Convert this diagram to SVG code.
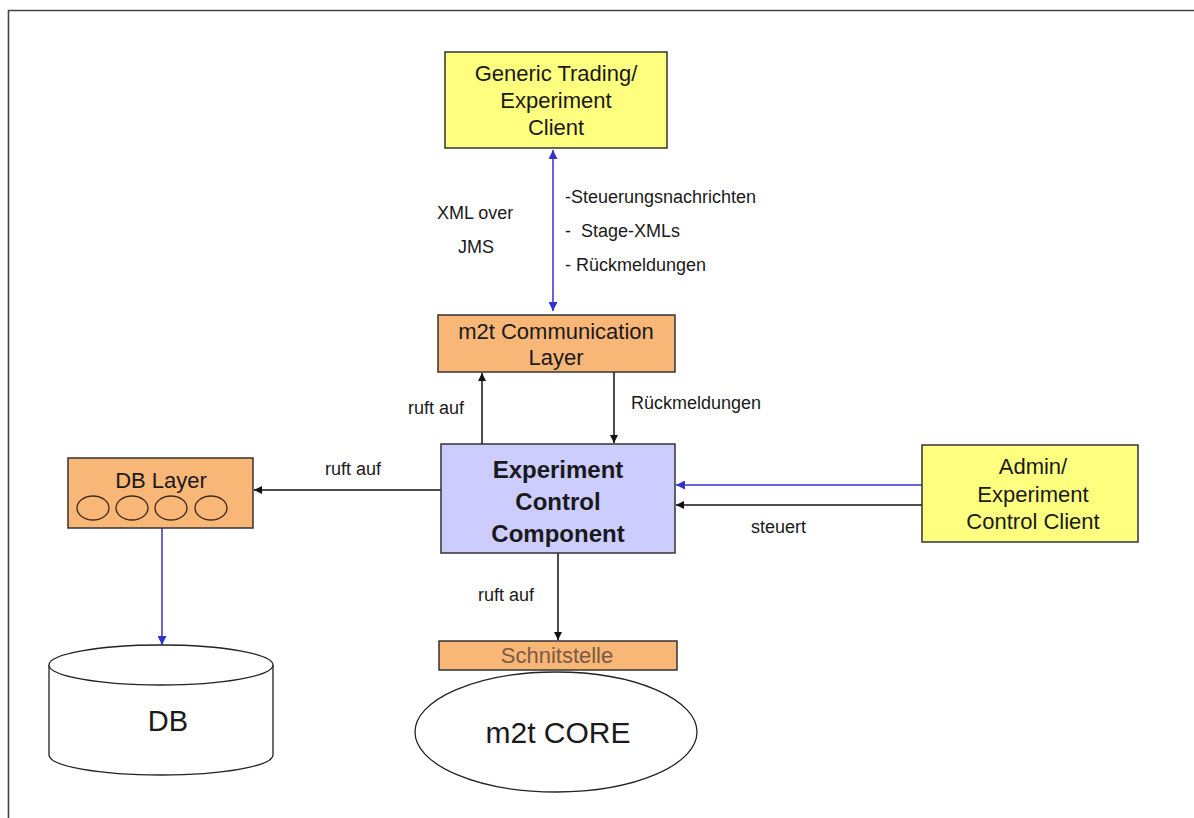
<svg xmlns="http://www.w3.org/2000/svg" width="1194" height="818" viewBox="0 0 1194 818">
  <defs>
    <style>
      .box { stroke: #333; stroke-width: 1.5; }
      .yellow { fill: #ffff7f; }
      .orange { fill: #f8b677; }
      .lav { fill: #ccccff; }
      .plain { fill: #fff; stroke: #222; stroke-width: 1.3; }
      .t { font-family: "Liberation Sans", Arial, sans-serif; fill: #1a1a1a; }
      .lbl { font-size: 18px; }
      .big { font-size: 22px; }
      .mid { text-anchor: middle; }
      .blk { stroke: #111; stroke-width: 1.5; fill: none; }
      .blu { stroke: #3333cc; stroke-width: 1.5; fill: none; }
    </style>
    <marker id="ah" viewBox="0 0 10 10" refX="10" refY="5" markerWidth="8" markerHeight="8" markerUnits="userSpaceOnUse" orient="auto-start-reverse">
      <path d="M0,0 L10,5 L0,10 z" fill="#111"/>
    </marker>
    <marker id="ahb" viewBox="0 0 10 10" refX="10" refY="5" markerWidth="9" markerHeight="9" markerUnits="userSpaceOnUse" orient="auto-start-reverse">
      <path d="M0,0 L10,5 L0,10 z" fill="#3333cc"/>
    </marker>
  </defs>

  <rect width="1194" height="818" fill="#fff"/>
  <!-- page frame -->
  <path d="M8.5,818 V10.5 H1194" fill="none" stroke="#444" stroke-width="1.6"/>

  <g id="connectors">
    <line class="blu" x1="553" y1="150" x2="553" y2="311" marker-start="url(#ahb)" marker-end="url(#ahb)"/>
    <line class="blk" x1="482" y1="444" x2="482" y2="373" marker-end="url(#ah)"/>
    <line class="blk" x1="614" y1="372" x2="614" y2="443" marker-end="url(#ah)"/>
    <line class="blk" x1="441" y1="490" x2="254" y2="490" marker-end="url(#ah)"/>
    <line class="blu" x1="162" y1="528" x2="162" y2="645" marker-end="url(#ahb)"/>
    <line class="blu" x1="922" y1="485" x2="676" y2="485" marker-end="url(#ahb)"/>
    <line class="blk" x1="922" y1="505" x2="676" y2="505" marker-end="url(#ah)"/>
    <line class="blk" x1="558" y1="553" x2="558" y2="640" marker-end="url(#ah)"/>

    <text class="t lbl" x="437" y="219">XML over</text>
    <text class="t lbl" x="458" y="253">JMS</text>
    <text class="t lbl" x="565" y="203">-Steuerungsnachrichten</text>
    <text class="t lbl" x="565" y="237" xml:space="preserve">-  Stage-XMLs</text>
    <text class="t lbl" x="565" y="271">- Rückmeldungen</text>
    <text class="t lbl" x="408" y="414">ruft auf</text>
    <text class="t lbl" x="631" y="409">Rückmeldungen</text>
    <text class="t lbl" x="325" y="475">ruft auf</text>
    <text class="t lbl" x="751" y="533">steuert</text>
    <text class="t lbl" x="478" y="601">ruft auf</text>
  </g>

  <g id="generic-client">
    <rect class="box yellow" x="445" y="52" width="222" height="96"/>
    <text class="t mid big" x="556" y="81">Generic Trading/</text>
    <text class="t mid big" x="556" y="108">Experiment</text>
    <text class="t mid big" x="556" y="135">Client</text>
  </g>

  <g id="comm-layer">
    <rect class="box orange" x="438" y="315" width="237" height="57"/>
    <text class="t mid big" x="556" y="339">m2t Communication</text>
    <text class="t mid big" x="556" y="365">Layer</text>
  </g>

  <g id="control-component">
    <rect class="box lav" x="441" y="444" width="234" height="109"/>
    <text class="t mid" x="558" y="478" font-size="24" font-weight="bold">Experiment</text>
    <text class="t mid" x="558" y="510" font-size="24" font-weight="bold">Control</text>
    <text class="t mid" x="558" y="542" font-size="24" font-weight="bold">Component</text>
  </g>

  <g id="db-layer">
    <rect class="box orange" x="68" y="458" width="185" height="70"/>
    <text class="t mid big" x="161" y="488">DB Layer</text>
    <g fill="none" stroke="#3a2a1a" stroke-width="1.3">
      <ellipse cx="93" cy="508" rx="16" ry="12"/>
      <ellipse cx="132" cy="508" rx="16" ry="12"/>
      <ellipse cx="171" cy="508" rx="16" ry="12"/>
      <ellipse cx="211" cy="508" rx="16" ry="12"/>
    </g>
  </g>

  <g id="db">
    <path class="plain" d="M49,665 V755 A112,20 0 0 0 273,755 V665"/>
    <ellipse class="plain" cx="161" cy="665" rx="112" ry="20"/>
    <text class="t mid" x="168" y="731" font-size="29">DB</text>
  </g>

  <g id="admin-client">
    <rect class="box yellow" x="922" y="445" width="216" height="97"/>
    <text class="t mid big" x="1033" y="474">Admin/</text>
    <text class="t mid big" x="1033" y="502">Experiment</text>
    <text class="t mid big" x="1033" y="529">Control Client</text>
  </g>

  <g id="core">
    <ellipse class="plain" cx="556" cy="732" rx="141" ry="60"/>
    <text class="t mid" x="558" y="743" font-size="30">m2t CORE</text>
  </g>

  <g id="interface">
    <rect class="box orange" x="439" y="641" width="238" height="29"/>
    <text class="t mid big" x="557" y="663" style="fill:#7a5a44">Schnitstelle</text>
  </g>
</svg>
